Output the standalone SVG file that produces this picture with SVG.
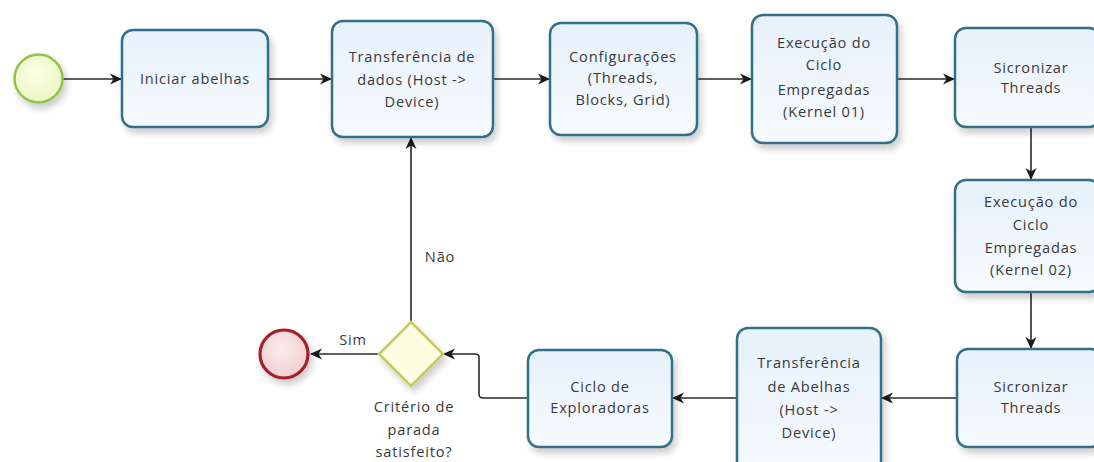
<svg xmlns="http://www.w3.org/2000/svg" width="1094" height="462" viewBox="0 0 1094 462">
<style>
.box{fill:url(#gBox);stroke:#336f88;stroke-width:2.5;filter:url(#sh)}
.t{font-family:"Open Sans","DejaVu Sans",sans-serif;font-size:14.6px;fill:#3a3a3a;text-anchor:middle;letter-spacing:0.8px}
.c{fill:none;stroke:#2a2a2a;stroke-width:1.6}
</style>
<defs>
<linearGradient id="gBox" x1="0" y1="0" x2="0" y2="1"><stop offset="0" stop-color="#e6f1fb"/><stop offset="1" stop-color="#f7fafd"/></linearGradient>
<radialGradient id="gStart" cx="0.45" cy="0.4" r="0.6"><stop offset="0" stop-color="#fcffe8"/><stop offset="1" stop-color="#eaf6c4"/></radialGradient>
<radialGradient id="gEnd" cx="0.45" cy="0.4" r="0.6"><stop offset="0" stop-color="#fbecec"/><stop offset="1" stop-color="#f2cfd0"/></radialGradient>
<filter id="sh" x="-20%" y="-20%" width="150%" height="150%"><feDropShadow dx="3" dy="5" stdDeviation="3.5" flood-color="#000" flood-opacity="0.2"/></filter>
<marker id="ah" viewBox="0 0 12 12" refX="11" refY="6" markerWidth="12" markerHeight="12" markerUnits="userSpaceOnUse" orient="auto"><path d="M0,0.5 L12,6 L0,11.5 L3.5,6 Z" fill="#1a1a1a"/></marker>
</defs>
<rect width="1094" height="462" fill="#ffffff"/>
<g id="connectors">
<line class="c" x1="63" y1="79" x2="121" y2="79" marker-end="url(#ah)"/>
<line class="c" x1="268" y1="79" x2="331" y2="79" marker-end="url(#ah)"/>
<line class="c" x1="493" y1="79" x2="549" y2="79" marker-end="url(#ah)"/>
<line class="c" x1="697" y1="79" x2="751" y2="79" marker-end="url(#ah)"/>
<line class="c" x1="897" y1="79" x2="954" y2="79" marker-end="url(#ah)"/>
<line class="c" x1="1031" y1="127" x2="1031" y2="179" marker-end="url(#ah)"/>
<line class="c" x1="1031" y1="292" x2="1031" y2="348" marker-end="url(#ah)"/>
<line class="c" x1="957" y1="398" x2="882" y2="398" marker-end="url(#ah)"/>
<line class="c" x1="737" y1="398" x2="673" y2="398" marker-end="url(#ah)"/>
<path class="c" d="M528,398 H483 Q479,398 479,394 V357 Q479,354 475,354 H444" marker-end="url(#ah)"/>
<line class="c" x1="380" y1="354" x2="311" y2="354" marker-end="url(#ah)"/>
<line class="c" x1="411" y1="322" x2="411" y2="138" marker-end="url(#ah)"/>
<text class="t" x="353" y="345">Sim</text>
<text class="t" x="440" y="262">Não</text>
</g>
<g id="start"><circle cx="38.5" cy="78.5" r="24" fill="url(#gStart)" stroke="#93c447" stroke-width="2.5" filter="url(#sh)"/></g>
<g id="iniciar"><rect class="box" x="122" y="30" width="146" height="97" rx="11"/><text class="t" x="195" y="84">Iniciar abelhas</text></g>
<g id="transf-dados"><rect class="box" x="332" y="21" width="161" height="116" rx="11"/>
<text class="t" x="412" y="62">Transferência de</text><text class="t" x="412" y="85">dados (Host -&gt;</text><text class="t" x="412" y="107">Device)</text></g>
<g id="config"><rect class="box" x="550" y="23" width="147" height="112" rx="11"/>
<text class="t" x="623" y="62">Configurações</text><text class="t" x="623" y="83">(Threads,</text><text class="t" x="623" y="105">Blocks, Grid)</text></g>
<g id="exec01"><rect class="box" x="752" y="15" width="145" height="128" rx="11"/>
<text class="t" x="824" y="48">Execução do</text><text class="t" x="824" y="70">Ciclo</text><text class="t" x="824" y="95">Empregadas</text><text class="t" x="824" y="117">(Kernel 01)</text></g>
<g id="sync1"><rect class="box" x="955" y="28" width="145" height="99" rx="11"/>
<text class="t" x="1031" y="73">Sicronizar</text><text class="t" x="1031" y="93">Threads</text></g>
<g id="exec02"><rect class="box" x="955" y="180" width="145" height="112" rx="11"/>
<text class="t" x="1031" y="207">Execução do</text><text class="t" x="1031" y="230">Ciclo</text><text class="t" x="1031" y="253">Empregadas</text><text class="t" x="1031" y="275">(Kernel 02)</text></g>
<g id="sync2"><rect class="box" x="957" y="349" width="145" height="98" rx="11"/>
<text class="t" x="1031" y="392">Sicronizar</text><text class="t" x="1031" y="413">Threads</text></g>
<g id="transf-abelhas"><rect class="box" x="737" y="328" width="144" height="150" rx="11"/>
<text class="t" x="809" y="368">Transferência</text><text class="t" x="809" y="392">de Abelhas</text><text class="t" x="809" y="415">(Host -&gt;</text><text class="t" x="809" y="438">Device)</text></g>
<g id="ciclo"><rect class="box" x="528" y="350" width="144" height="97" rx="11"/>
<text class="t" x="600" y="392">Ciclo de</text><text class="t" x="600" y="413">Exploradoras</text></g>
<g id="gateway"><polygon points="411,322 443,354 411,386 379,354" fill="#fdfde2" stroke="#c6cc5c" stroke-width="2.5" filter="url(#sh)"/>
<text class="t" x="414" y="412">Critério de</text><text class="t" x="414" y="435">parada</text><text class="t" x="414" y="457">satisfeito?</text></g>
<g id="end"><circle cx="284" cy="354" r="24" fill="url(#gEnd)" stroke="#a3202c" stroke-width="3.2" filter="url(#sh)"/></g>
</svg>
